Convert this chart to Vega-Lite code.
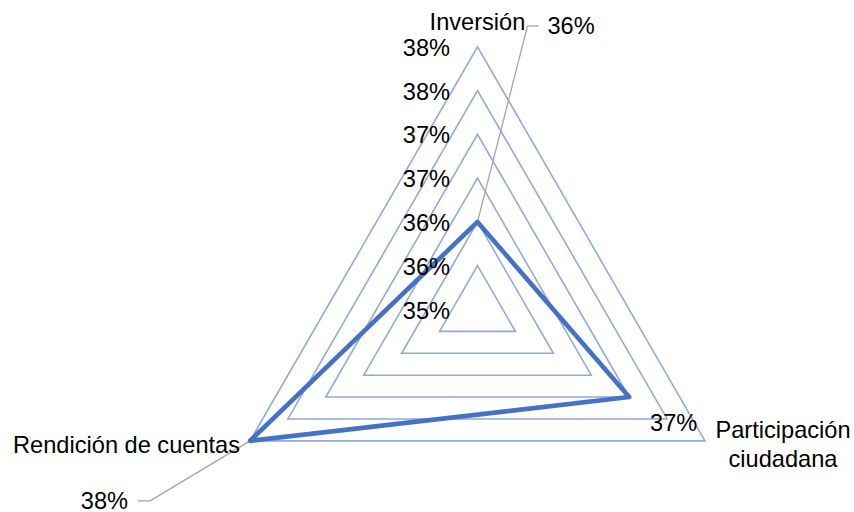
{
  "$schema": "https://vega.github.io/schema/vega-lite/v6.json",
  "width": 854,
  "height": 512,
  "autosize": {"type": "none"},
  "padding": 0,
  "background": "white",
  "config": {
    "view": {"stroke": null},
    "text": {"font": "Liberation Sans", "fontSize": 23.6, "color": "#000000", "baseline": "alphabetic"}
  },
  "datasets": {
    "puntajes": [
      {"eje": "Inversión", "orden": 0, "valor": 0.36},
      {"eje": "Participación ciudadana", "orden": 1, "valor": 0.37},
      {"eje": "Rendición de cuentas", "orden": 2, "valor": 0.38}
    ],
    "niveles": [
      {"nivel": 0.35},
      {"nivel": 0.355},
      {"nivel": 0.36},
      {"nivel": 0.365},
      {"nivel": 0.37},
      {"nivel": 0.375},
      {"nivel": 0.38}
    ]
  },
  "layer": [
    {
      "description": "Triangular grid, one closed ring per level",
      "data": {"name": "niveles"},
      "transform": [
        {"filter": "datum.nivel > 0.35"},
        {"calculate": "[0, 1, 2]", "as": "orden"},
        {"flatten": ["orden"]},
        {"calculate": "(datum.nivel - 0.35) * 100", "as": "r"},
        {"calculate": "datum.orden * 2 * PI / 3", "as": "ang"},
        {"calculate": "datum.r * sin(datum.ang)", "as": "px"},
        {"calculate": "datum.r * cos(datum.ang)", "as": "py"}
      ],
      "mark": {"type": "line", "interpolate": "linear-closed", "stroke": "#8FAADC", "strokeWidth": 1.6},
      "encoding": {
        "x": {"field": "px", "type": "quantitative", "scale": {"domain": [-5.453, 4.2996], "nice": false, "zero": false}, "axis": null},
        "y": {"field": "py", "type": "quantitative", "scale": {"domain": [-2.3125, 3.5345], "nice": false, "zero": false}, "axis": null},
        "detail": {"field": "nivel", "type": "nominal"},
        "order": {"field": "orden", "type": "quantitative"}
      }
    },
    {
      "data": {"name": "puntajes"},
      "transform": [
        {"calculate": "(datum.valor - 0.35) * 100", "as": "r"},
        {"calculate": "datum.orden * 2 * PI / 3", "as": "ang"},
        {"calculate": "datum.r * sin(datum.ang)", "as": "px"},
        {"calculate": "datum.r * cos(datum.ang)", "as": "py"},
        {"calculate": "(0.38 - 0.35) * 100 * sin(datum.ang)", "as": "lx"},
        {"calculate": "(0.38 - 0.35) * 100 * cos(datum.ang)", "as": "ly"},
        {"calculate": "format(datum.valor, '.0%')", "as": "etiqueta"}
      ],
      "encoding": {
        "x": {"field": "px", "type": "quantitative", "scale": {"domain": [-5.453, 4.2996], "nice": false, "zero": false}, "axis": null},
        "y": {"field": "py", "type": "quantitative", "scale": {"domain": [-2.3125, 3.5345], "nice": false, "zero": false}, "axis": null}
      },
      "layer": [
        {
          "description": "Leader line for the Inversión value label",
          "transform": [{"filter": "datum.orden == 0"}],
          "mark": {"type": "rule", "stroke": "#A6A6A6", "strokeWidth": 1.3, "x2Offset": 50, "y2Offset": -196},
          "encoding": {"x2": {"field": "px"}, "y2": {"field": "py"}}
        },
        {
          "transform": [{"filter": "datum.orden == 0"}],
          "mark": {"type": "rule", "stroke": "#A6A6A6", "strokeWidth": 1.3, "xOffset": 50, "x2Offset": 61, "yOffset": -196, "y2Offset": -196},
          "encoding": {"x2": {"field": "px"}, "y2": {"field": "py"}}
        },
        {
          "description": "Leader line for the Rendición de cuentas value label",
          "transform": [{"filter": "datum.orden == 2"}],
          "mark": {"type": "rule", "stroke": "#A6A6A6", "strokeWidth": 1.3, "x2Offset": -100, "y2Offset": 60},
          "encoding": {"x2": {"field": "px"}, "y2": {"field": "py"}}
        },
        {
          "transform": [{"filter": "datum.orden == 2"}],
          "mark": {"type": "rule", "stroke": "#A6A6A6", "strokeWidth": 1.3, "xOffset": -100, "x2Offset": -112, "yOffset": 60, "y2Offset": 60},
          "encoding": {"x2": {"field": "px"}, "y2": {"field": "py"}}
        },
        {
          "description": "Score polygon",
          "mark": {"type": "line", "interpolate": "linear-closed", "stroke": "#4472C4", "strokeWidth": 4.6, "strokeJoin": "round"},
          "encoding": {"order": {"field": "orden", "type": "quantitative"}}
        },
        {
          "transform": [{"filter": "datum.orden == 0"}],
          "mark": {"type": "text", "align": "left", "dx": 70, "dy": -188},
          "encoding": {"text": {"field": "etiqueta"}}
        },
        {
          "transform": [{"filter": "datum.orden == 1"}],
          "mark": {"type": "text", "align": "center", "dx": 44.5, "dy": 34.4},
          "encoding": {"text": {"field": "etiqueta"}}
        },
        {
          "transform": [{"filter": "datum.orden == 2"}],
          "mark": {"type": "text", "align": "right", "dx": -122, "dy": 68.5},
          "encoding": {"text": {"field": "etiqueta"}}
        },
        {
          "description": "Axis names at the outer vertices",
          "transform": [{"filter": "datum.orden == 0"}],
          "mark": {"type": "text", "align": "center", "dy": -16.8},
          "encoding": {
            "x": {"field": "lx", "type": "quantitative", "scale": {"domain": [-5.453, 4.2996], "nice": false, "zero": false}, "axis": null},
            "y": {"field": "ly", "type": "quantitative", "scale": {"domain": [-2.3125, 3.5345], "nice": false, "zero": false}, "axis": null},
            "text": {"field": "eje"}
          }
        },
        {
          "transform": [{"filter": "datum.orden == 1"}],
          "mark": {"type": "text", "align": "center", "dx": 78, "dy": -2.6, "lineBreak": " ", "lineHeight": 28.4},
          "encoding": {
            "x": {"field": "lx", "type": "quantitative", "scale": {"domain": [-5.453, 4.2996], "nice": false, "zero": false}, "axis": null},
            "y": {"field": "ly", "type": "quantitative", "scale": {"domain": [-2.3125, 3.5345], "nice": false, "zero": false}, "axis": null},
            "text": {"field": "eje"}
          }
        },
        {
          "transform": [{"filter": "datum.orden == 2"}],
          "mark": {"type": "text", "align": "right", "dx": -10, "dy": 12.4},
          "encoding": {
            "x": {"field": "lx", "type": "quantitative", "scale": {"domain": [-5.453, 4.2996], "nice": false, "zero": false}, "axis": null},
            "y": {"field": "ly", "type": "quantitative", "scale": {"domain": [-2.3125, 3.5345], "nice": false, "zero": false}, "axis": null},
            "text": {"field": "eje"}
          }
        }
      ]
    },
    {
      "description": "Radial scale labels along the vertical axis",
      "data": {"name": "niveles"},
      "transform": [
        {"calculate": "(datum.nivel - 0.35) * 100", "as": "py"},
        {"calculate": "format(datum.nivel, '.0%')", "as": "marca"}
      ],
      "mark": {"type": "text", "align": "right", "dx": -27.5, "dy": 9},
      "encoding": {
        "x": {"datum": 0, "type": "quantitative", "scale": {"domain": [-5.453, 4.2996], "nice": false, "zero": false}, "axis": null},
        "y": {"field": "py", "type": "quantitative", "scale": {"domain": [-2.3125, 3.5345], "nice": false, "zero": false}, "axis": null},
        "text": {"field": "marca"}
      }
    }
  ]
}
